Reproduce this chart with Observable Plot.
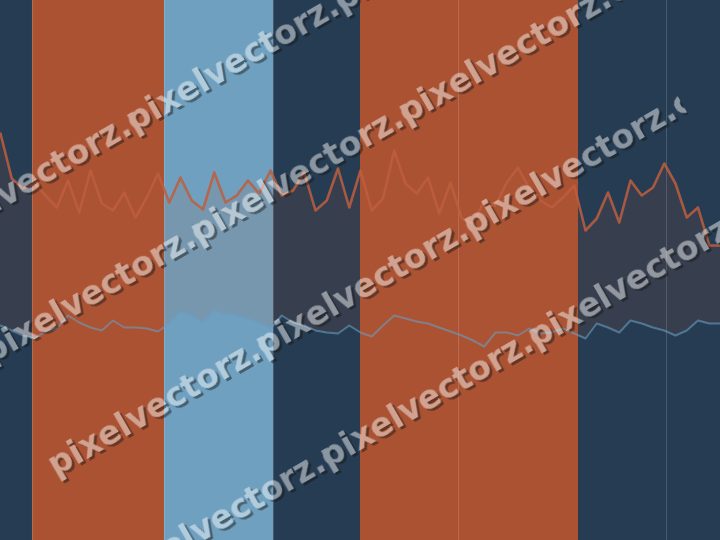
<!DOCTYPE html>
<html>
<head>
<meta charset="utf-8">
<script src="https://cdn.jsdelivr.net/npm/d3@7"></script>
<script src="https://cdn.jsdelivr.net/npm/@observablehq/plot@0.6"></script>
<style>
  html, body { margin: 0; padding: 0; background: #263c52; }
  #wrap { position: relative; width: 720px; height: 540px; overflow: hidden; }
  #wrap svg { display: block; }
  #wm { position: absolute; left: 0; top: 0; transform: rotate(-30deg); transform-origin: 0 0; opacity: 0.46; pointer-events: none; }
  .row { position: absolute; white-space: nowrap; font-family: "DejaVu Sans", sans-serif; font-weight: bold; font-size: 33px; line-height: 33px; color: #fff; text-shadow: 1.5px 2.5px 0 #101010; }
  .cfrag { display: inline-block; width: 0.3em; margin-right: -0.3em; overflow: hidden; vertical-align: bottom; }
</style>
</head>
<body>
<div id="wrap"></div>
<script>
// Background bands (x in series-index units)
const bandStart = [0, 2.84, 14.58, 24.27, 32, 40.71, 51.38, 59.2];
const bandEnd   = [2.84, 14.58, 24.27, 32, 40.71, 51.38, 59.2, 64];
const bandKind  = ["navy", "orange", "light", "navy", "orange", "orange", "navy", "navy"];
const dividers  = [2.84, 14.58, 24.27, 40.71, 59.2];

// Series values (index 0..64)
const orangeSeries = [407,362,352,357,345,333,360,328,370,337,
  330,348,323,343,367,338,363,340,331,368,
  338,345,360,347,370,345,350,368,330,340,
  372,333,370,330,342,390,357,347,363,327,
  358,322,317,340,335,358,373,352,340,333,
  343,355,310,322,348,318,360,345,353,377,
  357,323,333,295,295];
const blueSeries = [215,210,205,202,209,212,225,218,213,210,
  220,213,213,212,209,217,229,225,218,230,
  227,225,222,218,212,225,218,215,210,208,
  207,215,208,204,215,225,222,219,217,213,
  209,205,200,194,208,208,205,212,207,208,
  212,207,202,217,213,208,220,217,213,210,
  205,210,220,217,217];

const watermarkText = "pixelvectorz.";
const watermarkTail = "c";
const watermarkRows = 4;
const tilesPerRow = 3;

const bands = bandStart.map((s, k) => ({s, e: bandEnd[k], kind: bandKind[k]}));
const pts = orangeSeries.map((v, i) => ({i, o: v, b: blueSeries[i]}));

const chart = Plot.plot({
  width: 720,
  height: 540,
  margin: 0,
  x: {domain: [0, 64], axis: null},
  y: {domain: [0, 540], axis: null},
  color: {domain: ["navy", "orange", "light"], range: ["#263c52", "#ab5233", "#6fa0c0"]},
  style: {background: "#263c52"},
  marks: [
    Plot.rect(bands, {x1: "s", x2: "e", fill: "kind"}),
    Plot.ruleX(dividers, {stroke: "#ffffff", strokeOpacity: 0.16, strokeWidth: 1}),
    Plot.areaY(pts, {x: "i", y1: "b", y2: "o", fill: "#b5593a", fillOpacity: 0.12, curve: "linear"}),
    Plot.line(pts, {x: "i", y: "b", stroke: "#6a9cc0", strokeOpacity: 0.6, strokeWidth: 2}),
    Plot.line(pts, {x: "i", y: "o", stroke: "#bd5e3e", strokeOpacity: 0.85, strokeWidth: 2.6})
  ]
});

const wrap = document.getElementById("wrap");
wrap.appendChild(chart);

// Diagonal watermark overlay (rotated frame: left = along text, top = across)
const wm = document.createElement("div");
wm.id = "wm";
d3.range(watermarkRows).forEach(k => {
  const v = 173 + 129.3 * k;
  const row = document.createElement("div");
  row.className = "row";
  row.style.left = "-190px";
  row.style.top = (v - 19) + "px";
  d3.range(tilesPerRow).forEach(() => {
    row.appendChild(document.createTextNode(watermarkText));
    const c = document.createElement("span");
    c.className = "cfrag";
    c.textContent = watermarkTail;
    row.appendChild(c);
  });
  wm.appendChild(row);
});
wrap.appendChild(wm);
</script>
</body>
</html>
